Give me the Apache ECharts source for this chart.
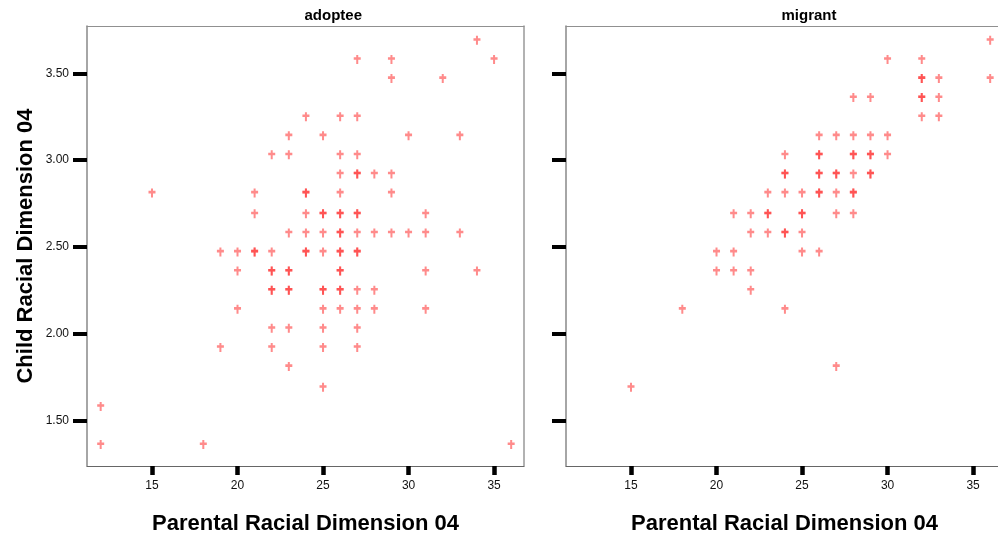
<!DOCTYPE html>
<html>
<head>
<meta charset="utf-8">
<script src="https://cdn.jsdelivr.net/npm/echarts@6.0.0/dist/echarts.min.js"></script>
<style>
  html, body { margin: 0; padding: 0; background: #ffffff; }
  #chart { width: 998px; height: 540px; }
</style>
</head>
<body>
<div id="chart"></div>
<script>
// ---------- Data ----------
const panelTitles = ['adoptee', 'migrant'];
const xAxisTitle = 'Parental Racial Dimension 04';
const yAxisTitle = 'Child Racial Dimension 04';
const xTickValues = [15, 20, 25, 30, 35];
const yTickValues = [1.5, 2.0, 2.5, 3.0, 3.5];

const adopteeX = [
  34,
  27, 29, 35,
  29, 32,
  24, 26, 27,
  23, 25, 30, 33,
  22, 23, 26, 27,
  26, 27, 27, 28, 29,
  15, 21, 24, 24, 26, 29,
  21, 24, 25, 25, 26, 26, 27, 27, 31,
  23, 24, 25, 26, 26, 27, 28, 29, 30, 31, 33,
  19, 20, 21, 21, 22, 24, 24, 25, 26, 26, 27, 27,
  20, 22, 22, 23, 23, 26, 26, 31, 34,
  22, 22, 23, 23, 25, 25, 26, 26, 27, 28,
  20, 25, 26, 27, 28, 31,
  22, 23, 25, 27,
  19, 22, 25, 27,
  23,
  25,
  12,
  12, 18, 36
];
const adopteeY = [
  3.69,
  3.58, 3.58, 3.58,
  3.47, 3.47,
  3.25, 3.25, 3.25,
  3.14, 3.14, 3.14, 3.14,
  3.03, 3.03, 3.03, 3.03,
  2.92, 2.92, 2.92, 2.92, 2.92,
  2.81, 2.81, 2.81, 2.81, 2.81, 2.81,
  2.69, 2.69, 2.69, 2.69, 2.69, 2.69, 2.69, 2.69, 2.69,
  2.58, 2.58, 2.58, 2.58, 2.58, 2.58, 2.58, 2.58, 2.58, 2.58, 2.58,
  2.47, 2.47, 2.47, 2.47, 2.47, 2.47, 2.47, 2.47, 2.47, 2.47, 2.47, 2.47,
  2.36, 2.36, 2.36, 2.36, 2.36, 2.36, 2.36, 2.36, 2.36,
  2.25, 2.25, 2.25, 2.25, 2.25, 2.25, 2.25, 2.25, 2.25, 2.25,
  2.14, 2.14, 2.14, 2.14, 2.14, 2.14,
  2.03, 2.03, 2.03, 2.03,
  1.92, 1.92, 1.92, 1.92,
  1.81,
  1.69,
  1.58,
  1.36, 1.36, 1.36
];

const migrantX = [
  36,
  30, 32,
  32, 32, 33, 36,
  28, 29, 32, 32, 33,
  32, 33,
  26, 27, 28, 29, 30,
  24, 26, 26, 28, 28, 29, 29, 30,
  24, 24, 26, 26, 27, 27, 28, 29, 29,
  23, 24, 25, 26, 26, 27, 28, 28,
  21, 22, 23, 23, 25, 25, 27, 28,
  22, 23, 24, 24, 25,
  20, 21, 25, 26,
  20, 21, 22,
  22,
  18, 24,
  27,
  15
];
const migrantY = [
  3.69,
  3.58, 3.58,
  3.47, 3.47, 3.47, 3.47,
  3.36, 3.36, 3.36, 3.36, 3.36,
  3.25, 3.25,
  3.14, 3.14, 3.14, 3.14, 3.14,
  3.03, 3.03, 3.03, 3.03, 3.03, 3.03, 3.03, 3.03,
  2.92, 2.92, 2.92, 2.92, 2.92, 2.92, 2.92, 2.92, 2.92,
  2.81, 2.81, 2.81, 2.81, 2.81, 2.81, 2.81, 2.81,
  2.69, 2.69, 2.69, 2.69, 2.69, 2.69, 2.69, 2.69,
  2.58, 2.58, 2.58, 2.58, 2.58,
  2.47, 2.47, 2.47, 2.47,
  2.36, 2.36, 2.36,
  2.25,
  2.14, 2.14,
  1.81,
  1.69
];

// ---------- Chart ----------
const FONT = '"Liberation Sans", Arial, sans-serif';
const pairs = (xs, ys) => xs.map((x, i) => [x, ys[i]]);
const markerPath = 'path://M2.5,0H4.5V2.3H7V4.9H4.5V9H2.5V4.9H0V2.3H2.5Z';
const X_MIN = 11.2, X_MAX = 36.75, Y_MIN = 1.2366, Y_MAX = 3.7726;

const gridCommon = { top: 26, height: 440, width: 437, show: false,
  outerBoundsMode: 'none', containLabel: false };

function xAxisFor(idx) {
  return {
    type: 'value', gridIndex: idx, min: X_MIN, max: X_MAX, position: 'bottom',
    name: xAxisTitle, nameLocation: 'middle', nameGap: 47,
    nameTextStyle: { fontFamily: FONT, fontWeight: 'bold', fontSize: 22, color: '#000' },
    splitLine: { show: false },
    axisLine: { show: true, onZero: false, lineStyle: { color: '#666', width: 1 } },
    axisTick: { show: true, customValues: xTickValues, length: 9, lineStyle: { color: '#000', width: 4.5 } },
    axisLabel: { show: true, customValues: xTickValues, margin: 14,
      fontFamily: FONT, fontSize: 12, color: '#111' }
  };
}
function xTopFrame(idx) {
  return {
    type: 'value', gridIndex: idx, min: X_MIN, max: X_MAX, position: 'top',
    splitLine: { show: false }, axisTick: { show: false }, axisLabel: { show: false },
    axisLine: { show: true, onZero: false, lineStyle: { color: '#909090', width: 1 } }
  };
}
function yAxisFor(idx, withLabels) {
  return {
    type: 'value', gridIndex: idx, min: Y_MIN, max: Y_MAX, position: 'left',
    name: withLabels ? yAxisTitle : '', nameLocation: 'middle', nameGap: 50,
    nameTextStyle: { fontFamily: FONT, fontWeight: 'bold', fontSize: 22, color: '#000' },
    splitLine: { show: false },
    axisLine: { show: true, onZero: false, lineStyle: { color: '#888', width: 1.5 } },
    axisTick: { show: true, customValues: yTickValues, length: 14, lineStyle: { color: '#000', width: 4 } },
    axisLabel: { show: withLabels, customValues: yTickValues, margin: 18,
      fontFamily: FONT, fontSize: 12, color: '#111',
      formatter: v => v.toFixed(2) }
  };
}
function yRightFrame(idx) {
  return {
    type: 'value', gridIndex: idx, min: Y_MIN, max: Y_MAX, position: 'right',
    splitLine: { show: false }, axisTick: { show: false }, axisLabel: { show: false },
    axisLine: { show: true, onZero: false, lineStyle: { color: '#999', width: 1.5 } }
  };
}

const seriesStyle = {
  type: 'scatter', symbol: markerPath, symbolSize: [7, 9],
  itemStyle: { color: 'rgba(255,35,35,0.66)' },
  emphasis: { disabled: true }, silent: true
};

const chart = echarts.init(document.getElementById('chart'), null, { renderer: 'canvas' });
chart.setOption({
  animation: false,
  backgroundColor: '#ffffff',
  grid: [
    Object.assign({ left: 87 }, gridCommon),
    Object.assign({ left: 566 }, gridCommon)
  ],
  xAxis: [xAxisFor(0), xAxisFor(1), xTopFrame(0), xTopFrame(1)],
  yAxis: [yAxisFor(0, true), yAxisFor(1, false), yRightFrame(0)],
  graphic: [
    { type: 'text', left: 87 + 437 / 2 - 1, top: 8,
      style: { text: panelTitles[0], font: 'bold 15px ' + FONT, fill: '#000', textAlign: 'center' } },
    { type: 'text', left: 566 + 437 / 2 - 3, top: 8,
      style: { text: panelTitles[1], font: 'bold 15px ' + FONT, fill: '#000', textAlign: 'center' } }
  ],
  series: [
    Object.assign({ name: panelTitles[0], xAxisIndex: 0, yAxisIndex: 0, data: pairs(adopteeX, adopteeY) }, seriesStyle),
    Object.assign({ name: panelTitles[1], xAxisIndex: 1, yAxisIndex: 1, data: pairs(migrantX, migrantY) }, seriesStyle)
  ]
});
</script>
</body>
</html>
